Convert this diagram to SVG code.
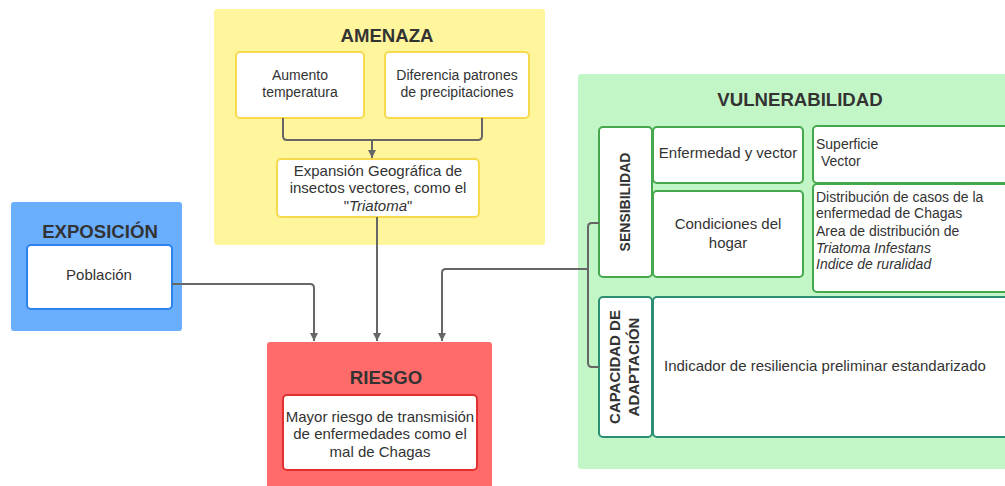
<svg xmlns="http://www.w3.org/2000/svg" width="1005" height="486" viewBox="0 0 1005 486">
<defs>
<style>
text{font-family:"Liberation Sans",Arial,sans-serif;fill:#333;}
.t{font-weight:bold;font-size:18.6px;text-anchor:middle;}
.m{font-size:15px;text-anchor:middle;}
.s{font-size:14px;}
.v{font-weight:bold;text-anchor:middle;}
.box{fill:#fff;stroke-width:2;}
.yb{stroke:#f7d94c;}
.bb{stroke:#2d83ee;}
.rb{stroke:#e3302f;}
.gb{stroke:#45a84c;}
.tb{stroke:#2b8f74;}
.c{fill:none;stroke:#666;stroke-width:2;}
</style>
<marker id="ah" markerWidth="10" markerHeight="10" refX="5" refY="9" orient="auto-start-reverse" markerUnits="userSpaceOnUse" viewBox="0 0 10 10">
<path d="M1,1 L9,1 L5,9 Z" fill="#666" transform="rotate(0)"/>
</marker>
<marker id="ad" markerWidth="10" markerHeight="10" refX="9" refY="5" orient="auto" markerUnits="userSpaceOnUse" viewBox="0 0 10 10">
<path d="M1,1 L9,5 L1,9 Z" fill="#666"/>
</marker>
</defs>

<g id="amenaza">
<rect x="214" y="9" width="331" height="236" rx="3" fill="#fff59d"/>
<text class="t" x="387" y="42">AMENAZA</text>
</g>
<g id="aumento">
<rect class="box yb" x="236" y="52" width="128" height="66" rx="4"/>
<text class="m" x="300" y="80" style="font-size:14px">Aumento</text>
<text class="m" x="300" y="97" style="font-size:14px">temperatura</text>
</g>
<g id="diferencia">
<rect class="box yb" x="385" y="52" width="144" height="66" rx="4"/>
<text class="m" x="457" y="80" style="font-size:14px">Diferencia patrones</text>
<text class="m" x="457" y="97" style="font-size:14px">de precipitaciones</text>
</g>
<g id="expansion">
<rect class="box yb" x="277" y="159" width="202" height="58" rx="4"/>
<text class="m" x="378" y="176">Expansión Geográfica de</text>
<text class="m" x="378" y="193">insectos vectores, como el</text>
<text class="m" x="378" y="211">"<tspan font-style="italic">Triatoma</tspan>"</text>
</g>

<g id="exposicion">
<rect x="11" y="202" width="171" height="129" rx="3" fill="#6aaefe"/>
<text class="t" x="100" y="238">EXPOSICIÓN</text>
</g>
<g id="poblacion">
<rect class="box bb" x="27" y="245" width="145" height="64" rx="4"/>
<text class="m" x="99" y="280">Población</text>
</g>

<g id="riesgo">
<rect x="267" y="342" width="225" height="150" rx="3" fill="#ff6b6b"/>
<text class="t" x="386" y="384">RIESGO</text>
</g>
<g id="mayor">
<rect class="box rb" x="283" y="395" width="194" height="75" rx="4"/>
<text class="m" x="380" y="422">Mayor riesgo de transmisión</text>
<text class="m" x="380" y="439">de enfermedades como el</text>
<text class="m" x="380" y="457">mal de Chagas</text>
</g>

<g id="vulnerabilidad">
<rect x="578" y="74" width="440" height="395" rx="3" fill="#c3f6c6"/>
<text class="t" x="800" y="106">VULNERABILIDAD</text>
</g>
<g id="sensibilidad">
<rect class="box gb" x="599" y="127" width="53" height="150" rx="4"/>
<text class="v" style="font-size:14px" transform="translate(625,202) rotate(-90)" dy="5">SENSIBILIDAD</text>
</g>
<g id="enfermedad">
<rect class="box gb" x="653" y="127" width="150" height="56" rx="4"/>
<text class="m" x="728" y="158">Enfermedad y vector</text>
</g>
<g id="condiciones">
<rect class="box gb" x="653" y="191" width="150" height="86" rx="4"/>
<text class="m" x="728" y="229">Condiciones del</text>
<text class="m" x="728" y="248">hogar</text>
</g>
<g id="superficie">
<rect class="box gb" x="813" y="126" width="210" height="57" rx="4"/>
<text class="s" x="816" y="149">Superficie</text>
<text class="s" x="821" y="166">Vector</text>
</g>
<g id="distribucion">
<rect class="box gb" x="813" y="184" width="210" height="108" rx="4"/>
<text class="s" x="816" y="202">Distribución de casos de la</text>
<text class="s" x="816" y="218">enfermedad de Chagas</text>
<text class="s" x="816" y="236">Area de distribución de</text>
<text class="s" x="816" y="253" font-style="italic">Triatoma Infestans</text>
<text class="s" x="816" y="269" font-style="italic">Indice de ruralidad</text>
</g>
<g id="capacidad">
<rect class="box tb" x="599" y="297" width="53" height="140" rx="4"/>
<text class="v" style="font-size:15px" transform="translate(615,367) rotate(-90)" dy="5">CAPACIDAD DE</text>
<text class="v" style="font-size:15px" transform="translate(634,367) rotate(-90)" dy="5">ADAPTACIÓN</text>
</g>
<g id="indicador">
<rect class="box tb" x="653" y="297" width="370" height="140" rx="4"/>
<text class="s" style="font-size:15px" x="664" y="371">Indicador de resiliencia preliminar estandarizado</text>
</g>

<g id="connectors">
<path class="c" d="M283,118 V136 Q283,140 287,140 H478 Q482,140 482,136 V118"/>
<path class="c" d="M372,140 V158" marker-end="url(#ad)"/>
<path class="c" d="M377,217 V341" marker-end="url(#ad)"/>
<path class="c" d="M172,284 H310 Q314,284 314,288 V341" marker-end="url(#ad)"/>
<path class="c" d="M588,269 H446 Q442,269 442,273 V341" marker-end="url(#ad)"/>
<path class="c" d="M599,223 H592 Q588,223 588,227 V363 Q588,367 592,367 H599"/>
</g>
</svg>
